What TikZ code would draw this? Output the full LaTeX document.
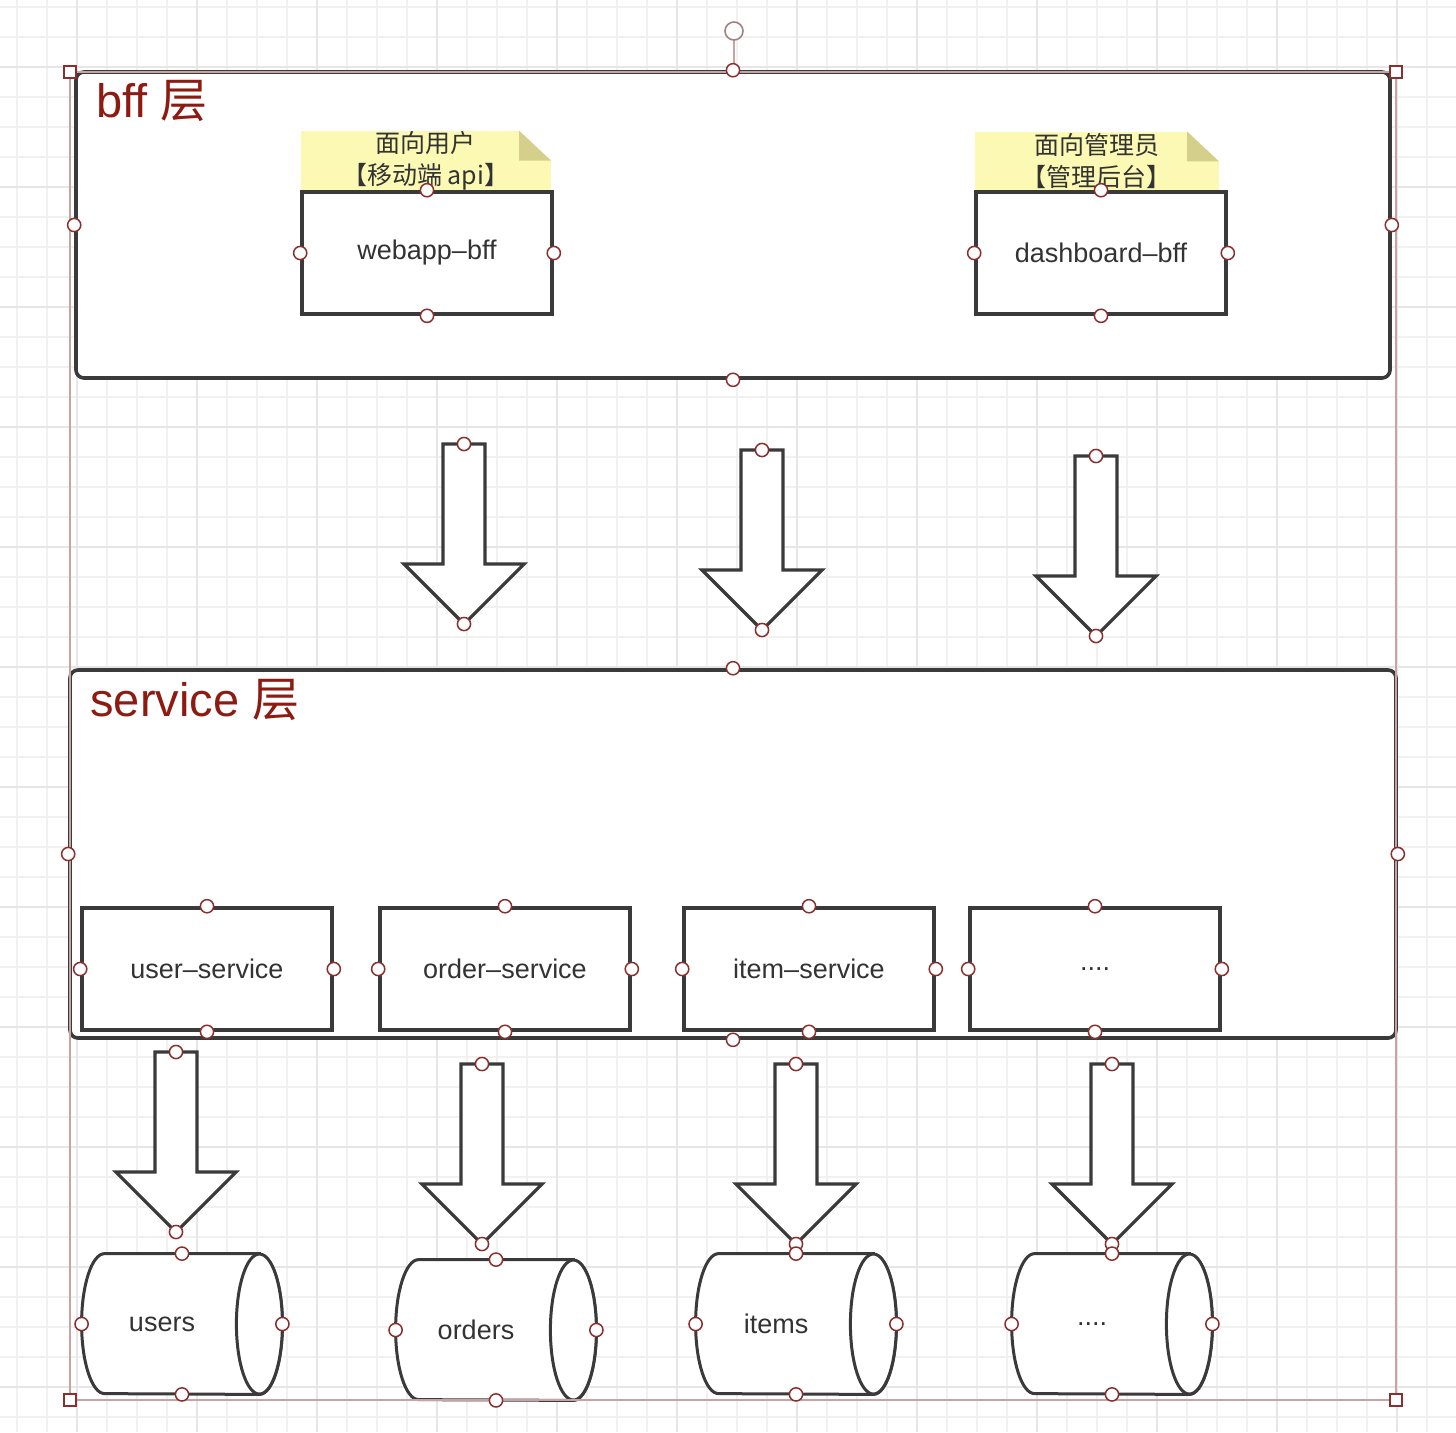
\documentclass[tikz,border=0pt]{standalone}
\usepackage{fontspec}
\setmainfont{Liberation Sans}
\newfontfamily\cjk{Noto Sans CJK SC}
\usetikzlibrary{positioning}
\definecolor{ink}{HTML}{333333}
\definecolor{edge}{HTML}{3A3A3A}
\definecolor{title}{HTML}{8E1B12}
\definecolor{hdlred}{HTML}{8B2E2E}
\definecolor{selframe}{HTML}{C9A3A3}
\definecolor{gridminor}{HTML}{F1F1F1}
\definecolor{gridmajor}{HTML}{E6E6E6}
\definecolor{notefill}{HTML}{FCF9B4}
\definecolor{notefold}{HTML}{D4D08C}

% four editor handles round a node
\newcommand{\hdls}[1]{\foreach \a in {north,south,east,west} \draw[hdl] (#1.\a) circle[radius=3.3pt];}
% hollow block arrow, hung from its top point
\newcommand{\bigarrow}[1]{%
  \draw[blockarr] (#1) ++(-21,0) -- ++(0,120) -- ++(-39,0) -- ++(60,60) -- ++(60,-60) -- ++(-39,0) -- ++(0,-120) -- cycle;
  \draw[hdl] (#1) circle[radius=3.3pt];
  \draw[hdl] (#1) ++(0,180) circle[radius=3.3pt];}
% lying cylinder round a node
\newcommand{\dbcyl}[1]{%
  \draw[dbline] ([xshift=-11.5pt]#1.north east) -- ([xshift=11.5pt]#1.north west)
    arc[start angle=90, end angle=270, x radius=11.5pt, y radius=35pt]
    -- ([xshift=-11.5pt]#1.south east)
    arc[start angle=-90, end angle=90, x radius=11.5pt, y radius=35pt] -- cycle;
  \draw[dbline] ([xshift=-11.5pt]#1.east) ellipse[x radius=11.5pt, y radius=35pt];}
% paper corner of a note
\newcommand{\notecorner}[1]{%
  \fill[white] ([xshift=-16pt]#1.north east) -- (#1.north east) -- ([yshift=-15pt]#1.north east) -- cycle;
  \fill[notefold] ([xshift=-16pt]#1.north east) -- ([xshift=-16pt,yshift=-15pt]#1.north east) -- ([yshift=-15pt]#1.north east) -- cycle;}

\begin{document}
\begin{tikzpicture}[
  x=0.5pt, y=-0.5pt,
  font=\fontsize{13.5pt}{16pt}\selectfont, text=ink,
  layer/.style    = {draw=edge, line width=1.8pt, rounded corners=4pt, fill=white, inner sep=0pt},
  svcbox/.style   = {draw=edge, line width=1.8pt, fill=white, inner sep=0pt,
                     minimum width=125pt, minimum height=61pt},
  note/.style     = {fill=notefill, inner sep=0pt, align=center, minimum height=29pt,
                     font=\cjk\fontsize{12.5pt}{16pt}\selectfont},
  dbnode/.style   = {inner sep=0pt, minimum width=100pt, minimum height=70pt},
  laytitle/.style = {text=title, font=\fontsize{23.5pt}{26pt}\selectfont, anchor=base west, inner sep=0pt},
  blockarr/.style = {draw=edge, line width=1.6pt, fill=white, line join=miter},
  dbline/.style   = {draw=edge, line width=1.5pt, fill=white},
  hdl/.style      = {draw=hdlred, fill=white, line width=0.75pt},
]
\useasboundingbox (0,0) rectangle (1456,1432);

% grid
\fill[white] (0,0) rectangle (1456,1432);
\foreach \x in {17,47,...,1456} \draw[gridminor, line width=0.6pt] (\x,0) -- (\x,1432);
\foreach \y in {7,37,...,1432} \draw[gridminor, line width=0.6pt] (0,\y) -- (1456,\y);
\foreach \x in {77,197,...,1456} \draw[gridmajor, line width=0.6pt] (\x,0) -- (\x,1432);
\foreach \y in {67,187,...,1432} \draw[gridmajor, line width=0.6pt] (0,\y) -- (1456,\y);

% bff layer
\node[layer, minimum width=657pt, minimum height=153pt] (bff) at (733,225) {};
\node[laytitle] (bfftitle) at (96,117) {bff {\cjk 层}};

\node[svcbox] (webapp) at (427,253) {webapp–bff};
\node[svcbox] (dashboard) at (1101,253) {dashboard–bff};

\node[note, minimum width=125pt, anchor=south west] (webnote) at (webapp.north west)
  {面向用户\\【移动端 api】};
\node[note, minimum width=122pt, anchor=south west] (dashnote) at (dashboard.north west)
  {面向管理员\\【管理后台】};
\notecorner{webnote}
\notecorner{dashnote}

% arrows between the layers
\coordinate (a1) at (464,444);
\coordinate (a2) at (762,450);
\coordinate (a3) at (1096,456);
\bigarrow{a1}
\bigarrow{a2}
\bigarrow{a3}

% service layer
\node[layer, minimum width=663pt, minimum height=184pt] (svc) at (733,854) {};
\node[laytitle] (svctitle) at (90,716) {service {\cjk 层}};

\node[svcbox] (usersvc) at (207,969) {user–service};
\node[svcbox] (ordersvc) at (505,969) {order–service};
\node[svcbox] (itemsvc) at (809,969) {item–service};
\node[svcbox] (moresvc) at (1095,969) {....};

% arrows down to the stores
\coordinate (b1) at (176,1052);
\coordinate (b2) at (482,1064);
\coordinate (b3) at (796,1064);
\coordinate (b4) at (1112,1064);
\bigarrow{b1}
\bigarrow{b2}
\bigarrow{b3}
\bigarrow{b4}

% stores
\node[dbnode] (usersdb) at (182,1324) {};
\node[dbnode] (ordersdb) at (496,1330) {};
\node[dbnode] (itemsdb) at (796,1324) {};
\node[dbnode] (moredb) at (1112,1324) {};
\dbcyl{usersdb}
\dbcyl{ordersdb}
\dbcyl{itemsdb}
\dbcyl{moredb}
\node (userslbl) at ([xshift=-10pt]usersdb.center) {users};
\node (orderslbl) at ([xshift=-10pt]ordersdb.center) {orders};
\node (itemslbl) at ([xshift=-10pt]itemsdb.center) {items};
\node (morelbl) at ([xshift=-10pt]moredb.center) {....};

% selection frame
\draw[selframe, line width=0.6pt] (70,72) rectangle (1396,1400);
\draw[selframe, line width=0.8pt] (734,40) -- (734,66);
\draw[draw=selframe!80!black, fill=white, line width=0.8pt] (734,31) circle[radius=4.5pt];
\foreach \cx/\cy in {70/72, 1396/72, 70/1400, 1396/1400}
  \draw[hdl] (\cx,\cy) ++(-6,-6) rectangle ++(12,12);

% handles
\hdls{bff}
\hdls{svc}
\hdls{webapp}
\hdls{dashboard}
\hdls{usersvc}
\hdls{ordersvc}
\hdls{itemsvc}
\hdls{moresvc}
\hdls{usersdb}
\hdls{ordersdb}
\hdls{itemsdb}
\hdls{moredb}

\end{tikzpicture}
\end{document}
